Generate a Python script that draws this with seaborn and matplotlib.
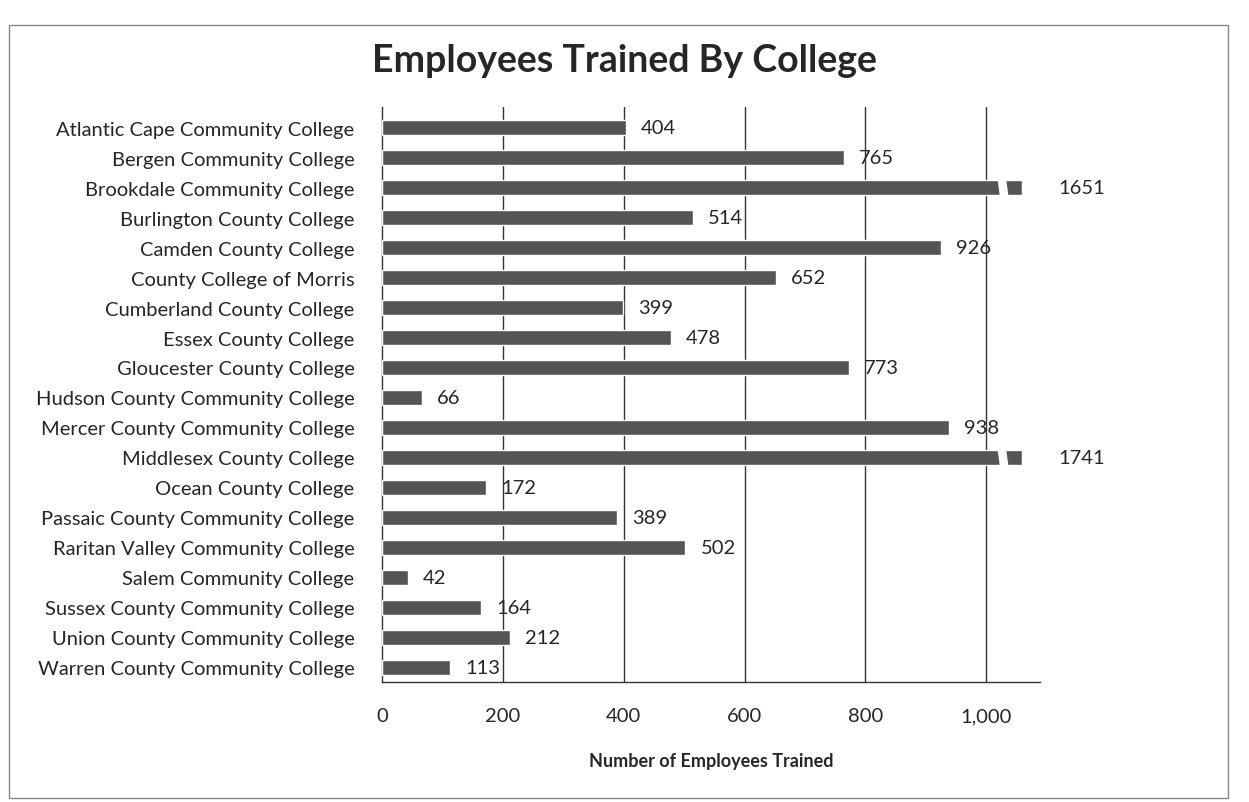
import numpy as np
import pandas as pd
import matplotlib.pyplot as plt
import seaborn as sns
from matplotlib.patches import Polygon, Rectangle

colleges = ["Atlantic Cape Community College", "Bergen Community College",
            "Brookdale Community College", "Burlington County College",
            "Camden County College", "County College of Morris",
            "Cumberland County College", "Essex County College",
            "Gloucester County College", "Hudson County Community College",
            "Mercer County Community College", "Middlesex County College",
            "Ocean County College", "Passaic County Community College",
            "Raritan Valley Community College", "Salem Community College",
            "Sussex County Community College", "Union County Community College",
            "Warren County Community College"]
employees = [404, 765, 1651, 514, 926, 652, 399, 478, 773, 66,
             938, 1741, 172, 389, 502, 42, 164, 212, 113]
x_ticks = [0, 200, 400, 600, 800, 1000]
x_tick_labels = ["0", "200", "400", "600", "800", "1,000"]

cap = 1060  # long bars are drawn broken at this value
df = pd.DataFrame({"College": colleges, "Employees": employees})
df["Shown"] = np.minimum(df["Employees"], cap)

sns.set_style("white")
plt.rcParams["font.family"] = ["Lato", "DejaVu Sans"]

fig = plt.figure(figsize=(12.49, 8.03), dpi=100)
ax = fig.add_axes([0.306, 0.149, 0.527, 0.717])

sns.barplot(data=df, x="Shown", y="College", color="#555555", width=0.5,
            saturation=1, ax=ax, zorder=3)

ax.set_xlim(0, 1090)
ax.set_ylim(len(colleges) - 0.5, -0.7)
ax.set_xticks(x_ticks)
ax.set_xticklabels(x_tick_labels, fontsize=14.5)
ax.tick_params(axis="x", length=0, pad=18)
ax.tick_params(axis="y", length=0, pad=20, labelsize=14.5)
for xv in x_ticks[1:]:
    ax.axvline(xv, color="#333333", lw=1, zorder=2)
for side in ["top", "right"]:
    ax.spines[side].set_visible(False)
for side in ["left", "bottom"]:
    ax.spines[side].set_color("#333333")
    ax.spines[side].set_linewidth(1)

ax.set_xlabel("Number of Employees Trained", fontsize=13, fontweight="bold", labelpad=20)
ax.set_ylabel("")

for i, (val, shown) in enumerate(zip(df["Employees"], df["Shown"])):
    if val > cap:
        # break mark: white slanted gap near the bar end
        gap = Polygon([(shown - 40, i - 0.3), (shown - 28, i - 0.3),
                       (shown - 24, i + 0.3), (shown - 36, i + 0.3)],
                      closed=True, color="white", zorder=4)
        ax.add_patch(gap)
        ax.text(shown + 60, i, str(val), va="center", ha="left", fontsize=14.5,
                clip_on=False, zorder=5)
    else:
        ax.text(shown + 25, i, str(val), va="center", ha="left", fontsize=14.5, zorder=5)

fig.suptitle("Employees Trained By College", fontsize=27, fontweight="bold", x=0.5, y=0.945)
fig.patches.append(Rectangle((0.007, 0.005), 0.976, 0.963, transform=fig.transFigure,
                             fill=False, edgecolor="#888888", lw=1))

fig.savefig("out.png", dpi=100)
